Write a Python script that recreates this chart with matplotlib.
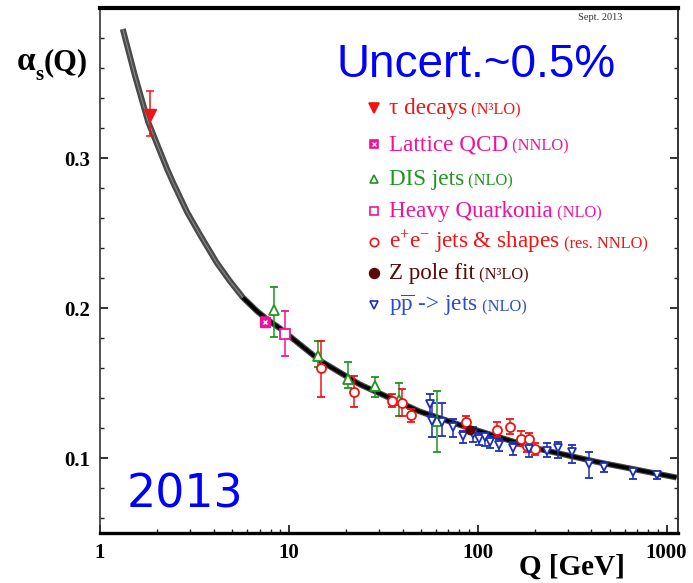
import numpy as np
import matplotlib
matplotlib.use('Agg')
import matplotlib.pyplot as plt
from matplotlib.ticker import MultipleLocator, NullFormatter, FixedLocator, LogLocator

plt.rcParams['font.family'] = ['Liberation Serif', 'DejaVu Serif']
plt.rcParams['mathtext.fontset'] = 'custom'
plt.rcParams['mathtext.rm'] = 'Liberation Serif'
plt.rcParams['mathtext.it'] = 'Liberation Serif:italic'
plt.rcParams['mathtext.bf'] = 'Liberation Serif:bold'

# running coupling curve
curve_q = [1.32, 1.53, 1.80, 2.26, 2.43, 2.89, 3.38, 4.16, 4.87, 5.71, 6.77, 7.74, 8.96,
           14.6, 23.8, 49.3, 87.5, 195, 442, 1130]
curve_a = [0.386, 0.355, 0.324, 0.293, 0.284, 0.264, 0.249, 0.230, 0.218, 0.207, 0.198, 0.192, 0.1865,
           0.165, 0.149, 0.131, 0.1205, 0.107, 0.097, 0.087]

# tau decays
tau_q = [1.85]
tau_a = [0.329]
tau_lo = [0.014]
tau_hi = [0.016]

# lattice QCD
lat_q = [7.5]
lat_a = [0.191]
lat_err = [0.003]

# DIS jets
dis_q = [8.3, 14.2, 20.5, 28.5, 38.2, 60.7]
dis_a = [0.199, 0.168, 0.153, 0.148, 0.139, 0.125]
dis_lo = [0.018, 0.007, 0.006, 0.007, 0.011, 0.021]
dis_hi = [0.015, 0.010, 0.011, 0.006, 0.011, 0.020]

# heavy quarkonia
hq_q = [9.5]
hq_a = [0.183]
hq_err = [0.015]

# e+e- jets & shapes
ee_q = [14.8, 22.1, 35.1, 39.6, 44.2, 86.6, 126, 148, 169, 182, 188, 200]
ee_a = [0.160, 0.144, 0.138, 0.137, 0.129, 0.124, 0.119, 0.121, 0.113, 0.108, 0.113, 0.106]
ee_lo = [0.019, 0.010, 0.004, 0.009, 0.005, 0.004, 0.005, 0.005, 0.005, 0.004, 0.004, 0.004]
ee_hi = [0.018, 0.011, 0.005, 0.009, 0.004, 0.004, 0.005, 0.005, 0.005, 0.004, 0.004, 0.004]

# Z pole fit
z_q = [91.2]
z_a = [0.1185]
z_err = [0.002]

# pp / ppbar jets
pp_q = [55.7, 57.0, 64.4, 73.8, 83.3, 94.2, 102, 109, 116, 129, 153, 188, 232, 265, 314, 387, 464, 661, 885]
pp_a = [0.136, 0.125, 0.124, 0.121, 0.115, 0.116, 0.113, 0.114, 0.111, 0.109, 0.107, 0.106, 0.105, 0.107, 0.104, 0.096, 0.094, 0.091, 0.089]
pp_lo = [0.008, 0.011, 0.009, 0.007, 0.005, 0.005, 0.004, 0.006, 0.004, 0.004, 0.005, 0.005, 0.004, 0.007, 0.007, 0.009, 0.003, 0.005, 0.003]
pp_hi = [0.007, 0.012, 0.013, 0.005, 0.003, 0.005, 0.004, 0.003, 0.004, 0.004, 0.004, 0.005, 0.005, 0.004, 0.005, 0.008, 0.003, 0.002, 0.002]

RED = '#f01414'
MAG = '#f0139a'
GRN = '#1e961e'
ZRED = '#5a0808'
BLU = '#1c2fb4'

W, H = 693, 583
fig = plt.figure(figsize=(W / 100, H / 100), dpi=100)
ax = fig.add_axes([100 / W, 1 - 533 / H, 578 / W, 525 / H])


def fx(px):
    return px / W


def fy(py):
    return 1 - py / H


# curve: grey band at low Q, solid black further up
line_kw = dict(solid_joinstyle='round', solid_capstyle='butt', zorder=2)
ax.plot(curve_q, curve_a, color='#4a4a4a', lw=4.3, **line_kw)
ax.plot(curve_q[:10], curve_a[:10], color='#8a8a8a', lw=0.8, **line_kw)
ax.plot(curve_q[9:], curve_a[9:], color='black', lw=2.6, **line_kw)

eb = dict(capsize=3, elinewidth=1.1, capthick=1.1, ls='none', zorder=3)

ax.errorbar(tau_q, tau_a, yerr=[tau_lo, tau_hi], fmt='v', color=RED, ms=8, **eb)
ax.errorbar(dis_q, dis_a, yerr=[dis_lo, dis_hi], fmt='^', color=GRN, mfc='white', ms=7, mew=1.3, **eb)
ax.errorbar(hq_q, hq_a, yerr=hq_err, fmt='s', color=MAG, mfc='white', ms=7.5, mew=1.3, **eb)
ax.errorbar(ee_q, ee_a, yerr=[ee_lo, ee_hi], fmt='o', color=RED, mfc='white', ms=6.5, mew=1.3, **eb)
ax.errorbar(pp_q, pp_a, yerr=[pp_lo, pp_hi], fmt='v', color=BLU, mfc='white', ms=5.5, mew=1.3, **eb)
ax.errorbar(lat_q, lat_a, yerr=lat_err, fmt='s', color=MAG, ms=7.5, **eb)
ax.plot(lat_q, lat_a, 'x', color='white', ms=3.5, mew=1, zorder=4)
ax.errorbar(z_q, z_a, yerr=z_err, fmt='o', color=ZRED, ms=6, **eb)

ax.set_xscale('log')
ax.set_xlim(1, 1150)
ax.set_ylim(0.05, 0.40)

ax.xaxis.set_major_locator(FixedLocator([1, 10, 100, 1000]))
ax.set_xticklabels(['1', '10', '100', '1000'])
ax.xaxis.set_minor_locator(LogLocator(base=10, subs=np.arange(2, 10)))
ax.xaxis.set_minor_formatter(NullFormatter())
ax.yaxis.set_major_locator(FixedLocator([0.1, 0.2, 0.3]))
ax.set_yticklabels(['0.1', '0.2', '0.3'])
ax.yaxis.set_minor_locator(MultipleLocator(0.02))

ax.tick_params(which='both', direction='in', top=False, right=True, colors='#222222')
ax.tick_params(which='major', length=6, width=1.3, labelsize=15, pad=7)
ax.tick_params(which='minor', length=3, width=1.0)
for lab in ax.get_xticklabels() + ax.get_yticklabels():
    lab.set_fontweight('bold')
    lab.set_color('black')

ax.spines['top'].set_linewidth(3.0)
ax.spines['bottom'].set_linewidth(2.4)
ax.spines['left'].set_linewidth(1.2)
ax.spines['right'].set_linewidth(1.4)
ax.spines['left'].set_color('#333333')
ax.spines['right'].set_color('#333333')

# axis titles
t_alpha = fig.text(fx(17), fy(70), 'α', fontsize=24, fontweight='bold', va='baseline')
t_sub = ax.annotate('s', xy=(1, 0), xycoords=t_alpha, xytext=(0, -6), textcoords='offset points',
                    fontsize=15, fontweight='bold', va='bottom', ha='left')
ax.annotate('(Q)', xy=(1, 0), xycoords=(t_sub, t_alpha), fontsize=22, fontweight='bold',
            va='bottom', ha='left')
fig.text(fx(572), fy(567), 'Q [GeV]', fontsize=21, fontweight='bold', ha='center', va='center')

fig.text(fx(600), fy(18), 'Sept. 2013', fontsize=7.5, color='#333333', ha='center', va='center')
fig.text(fx(476), fy(77), 'Uncert.~0.5%', fontsize=33, color='#0000ff', ha='center', va='baseline',
         family=['Liberation Sans', 'DejaVu Sans'])
ax.text(0.046, 0.03, '2013', transform=ax.transAxes, fontsize=33, color='#0000ff',
        family=['DejaVu Sans'], ha='left', va='bottom')

# legend, one row per measurement type
rows = [
    (108, 'v', RED, RED, 'τ decays', ' (N³LO)', RED, 7),
    (144, 's', MAG, MAG, 'Lattice QCD', ' (NNLO)', MAG, 6),
    (179, '^', GRN, 'white', 'DIS jets', ' (NLO)', GRN, 6),
    (211, 's', MAG, 'white', 'Heavy Quarkonia', ' (NLO)', MAG, 6),
    (242, 'o', RED, 'white', 'e$^{+}$e$^{-}$ jets & shapes', ' (res. NNLO)', RED, 6),
    (273, 'o', ZRED, ZRED, 'Z pole fit', ' (N³LO)', ZRED, 7),
    (305, 'v', BLU, 'white', r'p$\overline{\rm p}$ -> jets', ' (NLO)', '#2a4ccc', 6),
]
for py, mk, mc, mfc, main, extra, tc, ms in rows:
    ax.plot([fx(374)], [fy(py)], marker=mk, color=mc, mfc=mfc, ms=ms, mew=1.2,
            transform=fig.transFigure, clip_on=False)
    if mk == 's' and mfc != 'white':
        ax.plot([fx(374)], [fy(py)], marker='x', color='white', ms=3, mew=0.9,
                transform=fig.transFigure, clip_on=False)
    base = fy(py + 6)
    t = fig.text(fx(389), base, main, fontsize=16.7, color=tc, va='baseline', ha='left')
    ax.annotate(extra, xy=(1, base), xycoords=(t, 'figure fraction'),
                fontsize=11.8, color=tc, va='baseline', ha='left',
                annotation_clip=False)

fig.savefig('out.png', dpi=100)
